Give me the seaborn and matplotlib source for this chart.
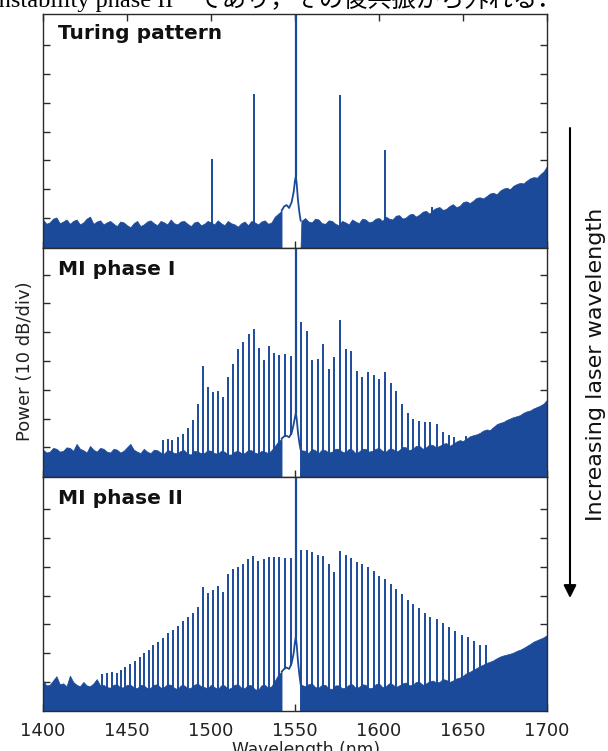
import numpy as np
import pandas as pd
import matplotlib
matplotlib.use("Agg")
import matplotlib.pyplot as plt
import seaborn as sns

# ---------------- data (units: divisions of 10 dB) ----------------
panel_titles = ["Turing pattern", "MI phase I", "MI phase II"]
xtick_values = [1400, 1450, 1500, 1550, 1600, 1650, 1700]
ytick_values = [0, 1, 2, 3, 4, 5, 6]
pump_wl = 1550.5
notch_lo, notch_hi = 1542.0, 1553.0

floor_left_wl = list(range(1400, 1541, 2))    # 1400 ... 1540 (71 readings)
floor_right_wl = list(range(1556, 1701, 2))   # 1556 ... 1700 (73 readings)

# Turing pattern
turing_floor_left = [-0.05, -0.2, -0.15, -0.02, 0.02, -0.18, -0.12, -0.05, -0.2, -0.1,
                     -0.05, -0.22, -0.15, -0.02, 0.05, -0.2, -0.12, -0.08, -0.22, -0.15,
                     -0.1, -0.2, -0.28, -0.12, -0.15, -0.25, -0.32, -0.18, -0.1, -0.28,
                     -0.22, -0.12, -0.08, -0.18, -0.25, -0.1, -0.15, -0.22, -0.05, -0.18,
                     -0.22, -0.12, -0.1, -0.2, -0.28, -0.15, -0.12, -0.25, -0.2, -0.1,
                     -0.15, -0.22, -0.08, -0.18, -0.25, -0.1, -0.18, -0.22, -0.3, -0.18,
                     -0.12, -0.25, -0.1, -0.15, -0.22, -0.12, -0.08, -0.2, -0.15, 0.05,
                     0.15]
turing_floor_right = [0.0, -0.12, -0.15, -0.02, -0.05, -0.18, -0.2, -0.08, -0.1, -0.2,
                      -0.25, -0.1, -0.15, -0.22, -0.05, -0.12, -0.18, -0.02, -0.05, -0.15,
                      -0.12, -0.02, 0.0, -0.1, 0.05, -0.02, -0.05, 0.08, 0.1, -0.02,
                      0.02, 0.12, 0.15, 0.05, 0.12, 0.22, 0.25, 0.15, 0.28, 0.35,
                      0.38, 0.28, 0.32, 0.42, 0.48, 0.38, 0.42, 0.55, 0.58, 0.52,
                      0.6, 0.7, 0.72, 0.68, 0.76, 0.85, 0.88, 0.82, 0.95, 1.02,
                      1.05, 1.0, 1.12, 1.18, 1.22, 1.2, 1.3, 1.38, 1.42, 1.4,
                      1.52, 1.62, 1.8]
turing_lines_wl = [1500.7, 1525.6, 1576.8, 1603.6, 1631.4]
turing_lines_val = [2.06, 4.32, 4.27, 2.36, 0.39]

# MI phase I
mi1_floor_left = [-0.08, -0.18, -0.15, -0.02, -0.05, -0.15, -0.12, 0.0, -0.02, -0.12,
                  0.12, -0.05, -0.1, -0.18, 0.05, -0.08, -0.15, -0.02, -0.05, -0.15,
                  -0.18, -0.05, -0.08, -0.18, -0.12, 0.0, 0.12, -0.08, -0.15, -0.2,
                  -0.05, -0.15, -0.2, -0.08, -0.1, -0.18, -0.22, -0.1, -0.12, -0.2,
                  -0.2, -0.12, -0.1, -0.22, -0.25, -0.12, -0.15, -0.2, -0.2, -0.1,
                  -0.12, -0.2, -0.22, -0.12, -0.15, -0.25, -0.25, -0.15, -0.12, -0.2,
                  -0.2, -0.1, -0.1, -0.18, -0.22, -0.12, -0.15, -0.2, -0.1, 0.05,
                  0.2]
mi1_floor_right = [-0.12, -0.2, -0.05, -0.1, -0.2, -0.08, -0.1, -0.18, -0.15, -0.05,
                   -0.05, -0.15, -0.18, -0.05, -0.08, -0.2, -0.15, -0.05, -0.05, -0.15,
                   -0.12, -0.05, -0.02, -0.12, -0.15, -0.05, -0.05, -0.15, -0.1, 0.02,
                   0.0, -0.1, -0.05, 0.05, 0.05, -0.05, 0.0, 0.1, 0.08, 0.0,
                   0.05, 0.12, 0.15, 0.05, 0.12, 0.2, 0.25, 0.22, 0.3, 0.38,
                   0.42, 0.45, 0.5, 0.58, 0.62, 0.6, 0.7, 0.8, 0.85, 0.88,
                   0.95, 1.0, 1.05, 1.08, 1.12, 1.2, 1.25, 1.28, 1.35, 1.4,
                   1.45, 1.52, 1.65]
mi1_lines_wl = [1471.2, 1474.2, 1477.0, 1480.2, 1483.1, 1486.1, 1489.1, 1492.3, 1495.2, 1498.2,
                1501.2, 1504.2, 1507.3, 1510.3, 1513.3, 1516.3, 1519.2, 1522.4, 1525.4, 1528.4,
                1531.5, 1534.5, 1537.5, 1540.7, 1544.0, 1547.4,
                1553.6, 1556.9, 1560.3, 1563.5, 1566.9, 1570.2, 1573.4, 1576.8, 1580.2, 1583.3,
                1586.7, 1590.1, 1593.5, 1596.8, 1600.2, 1603.6, 1607.0, 1610.3, 1613.7, 1617.1,
                1620.4, 1623.8, 1627.2, 1630.5, 1634.3, 1638.3, 1641.9, 1644.8, 1651.6]
mi1_lines_val = [0.25, 0.29, 0.25, 0.35, 0.46, 0.68, 0.95, 1.5, 2.82, 2.1,
                 1.91, 1.95, 1.76, 2.43, 2.88, 3.41, 3.65, 3.94, 4.1, 3.44,
                 3.03, 3.52, 3.28, 3.2, 3.23, 3.17,
                 4.34, 4.04, 3.03, 3.05, 3.58, 2.71, 3.15, 4.42, 3.4, 3.35,
                 2.66, 2.45, 2.61, 2.5, 2.36, 2.6, 2.22, 1.94, 1.5, 1.18,
                 1.0, 0.91, 0.89, 0.89, 0.8, 0.54, 0.43, 0.37, 0.39]

# MI phase II
mi2_floor_left = [0.05, -0.12, -0.1, 0.05, 0.2, -0.08, -0.05, -0.15, 0.22, 0.0,
                  -0.1, -0.15, 0.0, -0.12, -0.15, -0.05, 0.1, -0.12, -0.1, -0.18,
                  -0.2, -0.1, -0.08, -0.2, -0.18, -0.1, -0.1, -0.18, -0.22, -0.1,
                  -0.12, -0.22, -0.2, -0.1, -0.08, -0.2, -0.18, -0.08, -0.1, -0.2,
                  -0.25, -0.12, -0.12, -0.22, -0.2, -0.1, -0.05, -0.15, -0.18, -0.22,
                  -0.1, -0.18, -0.25, -0.12, -0.12, -0.25, -0.2, -0.1, -0.08, -0.2,
                  -0.22, -0.1, -0.12, -0.25, -0.28, -0.12, -0.1, -0.2, -0.15, 0.05,
                  0.25]
mi2_floor_right = [-0.15, -0.08, -0.05, -0.18, -0.2, -0.1, -0.1, -0.22, -0.25, -0.12,
                   -0.12, -0.22, -0.2, -0.1, -0.08, -0.2, -0.18, -0.08, -0.1, -0.22,
                   -0.2, -0.08, -0.05, -0.18, -0.15, -0.05, -0.08, -0.18, -0.12, -0.05,
                   -0.02, -0.12, -0.1, 0.0, 0.0, -0.1, -0.05, 0.02, 0.05, -0.02,
                   0.0, 0.1, 0.07, 0.0, 0.05, 0.12, 0.15, 0.22, 0.3, 0.35,
                   0.42, 0.48, 0.55, 0.6, 0.66, 0.7, 0.75, 0.82, 0.88, 0.92,
                   0.95, 0.98, 1.02, 1.08, 1.12, 1.18, 1.25, 1.32, 1.4, 1.45,
                   1.5, 1.55, 1.63]
mi2_lines_wl = [1434.9, 1437.9, 1440.9, 1443.8, 1446.2, 1448.8, 1451.8, 1454.8, 1457.7, 1460.3,
                1463.1, 1465.7, 1468.7, 1471.6, 1474.6, 1477.6, 1480.6, 1483.5, 1486.5, 1489.5,
                1492.5, 1495.4, 1498.4, 1501.4, 1504.4, 1507.3, 1510.3, 1513.3, 1516.3, 1519.2,
                1522.2, 1525.2, 1528.2, 1531.5, 1534.5, 1537.5, 1540.7, 1544.0, 1547.4,
                1553.6, 1557.0, 1560.3, 1563.5, 1566.9, 1570.2, 1573.4, 1576.8, 1580.2, 1583.3,
                1586.7, 1590.1, 1593.5, 1596.8, 1600.2, 1603.6, 1607.0, 1610.3, 1613.7, 1617.1,
                1620.4, 1623.8, 1627.2, 1630.5, 1634.3, 1638.3, 1641.9, 1645.2, 1649.2, 1652.8,
                1656.5, 1660.1, 1663.7]
mi2_lines_val = [0.28, 0.32, 0.36, 0.3, 0.42, 0.53, 0.61, 0.74, 0.88, 0.99,
                 1.11, 1.28, 1.4, 1.54, 1.69, 1.81, 1.96, 2.1, 2.27, 2.41,
                 2.59, 3.29, 3.08, 3.19, 3.32, 3.14, 3.74, 3.91, 3.98, 4.09,
                 4.26, 4.38, 4.21, 4.26, 4.33, 4.33, 4.33, 4.32, 4.29,
                 4.58, 4.58, 4.5, 4.41, 4.38, 4.09, 3.83, 4.55, 4.41, 4.29,
                 4.18, 4.1, 4.0, 3.87, 3.68, 3.56, 3.4, 3.23, 3.06, 2.85,
                 2.7, 2.58, 2.41, 2.27, 2.19, 2.04, 1.92, 1.78, 1.63, 1.57,
                 1.43, 1.28, 1.28]

# pump skirt inside the filter notch
skirt_wl = [1542.0, 1543.5, 1545.0, 1546.5, 1548.0, 1549.2, 1550.0, 1550.5, 1551.0, 1551.8, 1552.6, 1553.4]
turing_skirt = [0.25, 0.4, 0.45, 0.35, 0.55, 0.9, 1.3, 1.45, 1.2, 0.6, 0.2, -0.1]
mi1_skirt = [0.3, 0.38, 0.4, 0.35, 0.5, 0.8, 1.05, 1.2, 1.0, 0.5, 0.15, -0.1]
mi2_skirt = [0.35, 0.45, 0.5, 0.45, 0.65, 1.0, 1.4, 1.57, 1.3, 0.7, 0.25, -0.1]

floors_left = [turing_floor_left, mi1_floor_left, mi2_floor_left]
floors_right = [turing_floor_right, mi1_floor_right, mi2_floor_right]
lines_wl = [turing_lines_wl, mi1_lines_wl, mi2_lines_wl]
lines_val = [turing_lines_val, mi1_lines_val, mi2_lines_val]
skirts = [turing_skirt, mi1_skirt, mi2_skirt]

# ---------------- style ----------------
sns.set_theme(style="ticks")
plt.rcParams["font.family"] = ["DejaVu Sans"]
BLUE = "#1b4a9b"
FRAME = "#2b2b2b"

ylims = [(-1.04, 7.08), (-1.03, 6.92), (-1.01, 7.12)]
title_offsets = [-25, -27, -27]

fig, axes = plt.subplots(
    3, 1, figsize=(6.08, 7.51), dpi=100,
    gridspec_kw=dict(height_ratios=[234, 229, 234], hspace=0,
                     left=43 / 608, right=547 / 608, top=1 - 14 / 751, bottom=1 - 711 / 751))

for i, ax in enumerate(axes):
    ax.set_facecolor("white")
    ax.set_xlim(1400, 1700)
    ax.set_ylim(*ylims[i])
    ax.set_axisbelow(True)
    ybot = ylims[i][0] - 0.5

    # noise floor left of the notch
    lx = floor_left_wl + [notch_lo]
    ly = floors_left[i] + [skirts[i][0]]
    ax.fill_between(lx, ly, ybot, color=BLUE, lw=0.5, edgecolor=BLUE, zorder=1)
    # noise floor right of the notch
    rx = [notch_hi, notch_hi + 0.8] + floor_right_wl
    ry = [ybot, skirts[i][-1]] + floors_right[i]
    ax.fill_between(rx, ry, ybot, color=BLUE, lw=0.5, edgecolor=BLUE, zorder=1)

    # pump skirt line in the notch
    sk = pd.DataFrame({"wl": skirt_wl, "p": skirts[i]})
    sns.lineplot(data=sk, x="wl", y="p", ax=ax, color=BLUE, lw=1.3, zorder=2)

    # comb lines
    lw_arr = np.array(lines_wl[i])
    lv_arr = np.array(lines_val[i])
    base = np.where((lw_arr > notch_lo) & (lw_arr < notch_hi),
                    np.interp(lw_arr, skirt_wl, skirts[i]), ybot)
    ax.vlines(lw_arr, base, lv_arr, color=BLUE, lw=1.4, zorder=2)

    # pump
    ax.vlines([pump_wl], [skirts[i][skirt_wl.index(pump_wl)]], [ylims[i][1] + 1],
              color=BLUE, lw=1.6, zorder=2)

    ax.set_xlabel("")
    ax.set_ylabel("")
    ax.set_yticks(ytick_values)
    ax.set_yticklabels([])
    ax.set_xticks(xtick_values)
    ax.tick_params(axis="y", direction="in", left=True, right=True, length=5, width=1.0,
                   color=FRAME)
    ax.tick_params(axis="x", direction="in", top=(i == 0), bottom=True, length=5, width=1.0,
                   color=FRAME, labelbottom=(i == 2), labelsize=13, labelcolor="#222222", pad=8)
    for s in ax.spines.values():
        s.set_visible(True)
        s.set_linewidth(1.0)
        s.set_color(FRAME)
        s.set_zorder(3)

    ax.annotate(panel_titles[i], xy=(0, 1), xycoords="axes fraction",
                xytext=(15, title_offsets[i]), textcoords="offset pixels",
                fontsize=14.5, fontweight="bold", color="#111111", va="baseline", ha="left")

# axis labels
fig.text(306 / 608, 1 - 741 / 751, "Wavelength (nm)", ha="center", va="top",
         fontsize=12.3, color="#222222")
fig.text(30 / 608, 1 - 361 / 751, "Power (10 dB/div)", rotation=90, rotation_mode="anchor",
         ha="center", va="baseline", fontsize=13, color="#222222")

# arrow and its label
axes[0].annotate("", xy=(570 / 608, 1 - 598 / 751), xytext=(570 / 608, 1 - 128 / 751),
                 xycoords="figure fraction", textcoords="figure fraction",
                 annotation_clip=False,
                 arrowprops=dict(arrowstyle="-|>,head_length=0.4,head_width=0.2",
                                 mutation_scale=19, lw=1.5, color="black",
                                 shrinkA=0, shrinkB=0))
fig.text(602 / 608, 1 - 364.5 / 751, "Increasing laser wavelength", rotation=90,
         rotation_mode="anchor", ha="center", va="baseline", fontsize=16, color="#111111")

# cut-off line of surrounding page text
fig.text(-8 / 608, 1 - 6.5 / 751, "instability phase II\u3000であり，その後共振から外れる．",
         family=["Liberation Serif", "Noto Sans CJK JP"], fontsize=17.5,
         ha="left", va="baseline", color="black")

fig.savefig("out.png", dpi=100)
